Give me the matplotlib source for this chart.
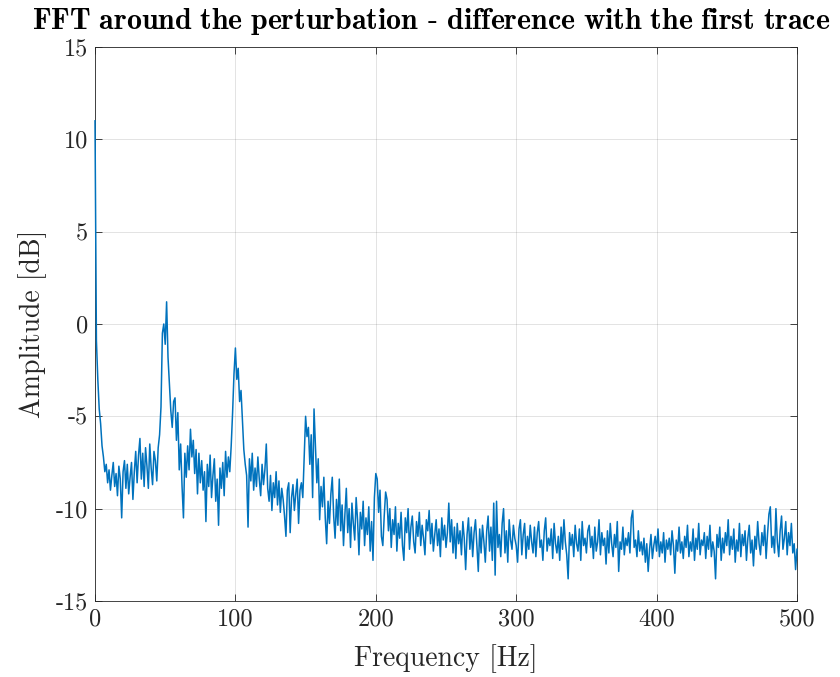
import numpy as np
import matplotlib
matplotlib.use("Agg")
import matplotlib.pyplot as plt

# LaTeX-like look (MATLAB figure exported with latex interpreter)
plt.rcParams['font.family'] = 'serif'
plt.rcParams['font.serif'] = ['cmr10']
plt.rcParams['mathtext.fontset'] = 'cm'
plt.rcParams['axes.unicode_minus'] = False
plt.rcParams['axes.formatter.use_mathtext'] = False

# Amplitude in dB at 1 Hz steps (0 .. 500 Hz)
amp_0_99 = [
    11.0, -0.9, -3.0, -4.6, -5.4, -6.6, -7.2, -8.0, -7.6, -8.6,
    -7.9, -9.0, -8.2, -7.5, -8.8, -8.1, -9.3, -7.7, -8.4, -10.5,
    -8.0, -7.4, -8.9, -7.6, -9.2, -8.3, -7.5, -9.5, -8.0, -6.9,
    -8.6, -7.1, -6.2, -8.4, -7.0, -8.8, -6.7, -7.7, -8.9, -6.5,
    -7.8, -8.7, -6.9, -7.4, -8.5, -6.7, -6.0, -4.5, -0.5, 0.0,
    -1.1, 1.2, -1.8, -3.3, -4.7, -5.6, -4.2, -4.0, -6.3, -4.8,
    -7.9, -6.5, -8.8, -10.5, -7.0, -8.3, -6.6, -7.9, -5.7, -7.2,
    -6.3, -8.1, -6.8, -9.2, -7.0, -8.6, -7.4, -9.0, -8.0, -10.7,
    -7.6, -8.8, -7.1, -9.4, -8.2, -7.3, -9.6, -8.4, -10.9, -7.8,
    -8.9, -7.5, -9.3, -6.9, -8.3, -7.2, -8.0, -6.6, -4.8, -2.7,
]
amp_100_199 = [
    -1.3, -3.0, -2.4, -4.2, -3.6, -5.2, -6.8, -7.6, -8.2, -11.0,
    -7.3, -8.5, -7.0, -9.0, -7.8, -8.8, -7.2, -8.4, -9.3, -7.6,
    -8.7, -7.9, -6.5, -8.9, -9.6, -8.2, -10.1, -8.6, -9.4, -8.0,
    -9.8, -8.5, -10.2, -8.9, -9.5, -10.4, -11.5, -9.0, -8.6, -11.3,
    -9.4, -8.7, -10.1, -9.2, -8.4, -10.8, -9.0, -8.6, -9.4, -7.2,
    -5.0, -6.1, -5.6, -7.6, -6.0, -9.4, -4.6, -6.6, -8.6, -7.3,
    -10.6, -8.8, -9.9, -8.3, -10.5, -11.9, -9.6, -10.8, -9.2, -8.3,
    -10.4, -11.6, -9.5, -10.9, -8.4, -11.2, -9.8, -12.0, -10.3, -8.9,
    -11.3, -10.0, -12.1, -9.7, -10.8, -11.7, -9.4, -10.6, -12.5, -10.2,
    -11.1, -9.6, -12.0, -10.5, -11.4, -9.9, -12.3, -10.7, -12.8, -9.4,
]
amp_200_299 = [
    -8.1, -8.4, -10.2, -9.0, -11.5, -12.0, -10.4, -9.1, -9.5, -11.2,
    -10.0, -12.1, -10.6, -11.4, -9.9, -12.3, -10.8, -11.6, -10.2, -12.0,
    -12.8, -10.5, -11.3, -10.0, -12.2, -11.0, -10.4, -11.8, -12.4, -10.7,
    -11.5, -10.2, -12.0, -10.9, -11.6, -12.5, -10.6, -11.2, -10.1, -11.9,
    -10.8, -12.3, -11.4, -10.6, -12.0, -11.1, -12.6, -10.5, -11.7, -10.9,
    -12.1, -11.3, -9.7, -11.8, -10.6, -12.4, -11.0, -12.7, -10.8, -11.9,
    -11.2, -12.5, -10.7, -11.6, -13.3, -11.4, -10.5, -12.2, -11.0, -12.6,
    -11.3, -10.6, -12.0, -13.4, -11.1, -12.4, -10.9, -11.8, -12.9, -11.2,
    -10.4, -12.3, -11.0, -12.8, -9.7, -13.6, -9.6, -12.1, -11.4, -12.6,
    -10.8, -10.0, -12.4, -11.2, -12.9, -10.6, -11.7, -12.2, -10.9, -11.6,
]
amp_300_399 = [
    -12.0, -12.9, -11.1, -10.6, -12.5, -11.4, -10.8, -12.7, -11.5, -12.2,
    -10.9, -11.8, -12.4, -11.0, -12.6, -11.3, -10.7, -12.1, -11.7, -12.8,
    -11.2, -10.5, -12.3, -11.6, -12.0, -11.1, -12.7, -10.8, -11.9, -12.4,
    -11.5, -12.8, -11.0, -12.2, -10.6, -11.8, -12.5, -13.8, -11.3, -12.0,
    -11.4, -12.6, -10.9, -11.9, -12.3, -11.1, -12.8, -10.7, -12.0, -11.6,
    -12.4, -11.2, -10.9, -12.1, -11.5, -12.7, -11.0, -12.3, -11.8, -10.6,
    -12.5, -11.3, -12.0, -11.6, -13.0, -11.2, -12.4, -10.8, -11.9, -12.6,
    -11.4, -12.1, -10.7, -13.4, -11.8, -12.2, -11.0, -12.5, -11.6, -12.0,
    -11.3, -12.4, -10.5, -10.1, -12.1, -11.7, -12.6, -11.2, -12.3, -11.8,
    -12.5, -11.6, -12.9, -11.9, -13.4, -12.2, -11.4, -12.7, -12.0, -11.5,
]
amp_400_500 = [
    -12.3, -11.1, -12.6, -11.8, -12.4, -11.3, -12.9, -11.7, -12.2, -11.6,
    -12.5, -11.2, -12.0, -13.5, -11.7, -12.3, -11.0, -12.4, -11.8, -12.7,
    -11.5, -12.1, -10.9, -12.6, -11.8, -12.3, -11.1, -12.8, -11.6, -12.2,
    -10.8, -12.5, -11.7, -12.0, -11.3, -12.7, -11.5, -12.2, -10.9, -12.6,
    -11.8, -12.3, -13.8, -11.4, -12.1, -11.0, -12.8, -11.6, -12.4, -11.3,
    -12.0, -10.6, -12.5, -11.5, -12.2, -11.1, -12.9, -11.7, -12.3, -10.8,
    -12.6, -11.4, -12.0, -11.2, -12.8, -11.6, -10.9, -12.4, -11.7, -13.1,
    -11.5, -12.2, -10.7, -11.9, -12.5, -11.3, -12.0, -10.9, -12.7, -11.4,
    -10.3, -9.9, -12.1, -11.5, -12.4, -10.0, -11.8, -12.6, -11.2, -10.4,
    -12.2, -11.6, -10.7, -12.5, -11.3, -12.0, -10.8, -12.4, -11.9, -13.3,
    -12.2,
]

amplitude = np.array(amp_0_99 + amp_100_199 + amp_200_299 + amp_300_399 + amp_400_500)
freq = np.arange(len(amplitude))  # Hz

fig = plt.figure(figsize=(8.4, 6.77), dpi=100)
ax = fig.add_axes([0.1131, 0.1123, 0.8357, 0.8183])

ax.plot(freq, amplitude, color='#0072BD', linewidth=1.1, zorder=3, clip_on=False)

ax.set_xlim(0, 500)
ax.set_ylim(-15, 15)
ax.set_xticks([0, 100, 200, 300, 400, 500])
ax.set_yticks([-15, -10, -5, 0, 5, 10, 15])

ax.grid(True, color='#262626', alpha=0.15, linewidth=0.6)
ax.tick_params(direction='in', top=True, right=True, labelsize=17.5,
               length=5, width=0.6, colors='#262626', pad=5)
for s in ax.spines.values():
    s.set_linewidth(0.6)
    s.set_color('#262626')

ax.set_xlabel('Frequency [Hz]', fontsize=20, color='#262626', labelpad=10)
ax.set_ylabel('Amplitude [dB]', fontsize=20, color='#262626', labelpad=6)
title = ax.set_title(r'$\mathbf{FFT\ around\ the\ perturbation}$ - $\mathbf{difference\ with\ the\ first\ trace}$',
                     fontsize=21.5, pad=13, x=0.4786)

fig.savefig('out.png', dpi=100)
